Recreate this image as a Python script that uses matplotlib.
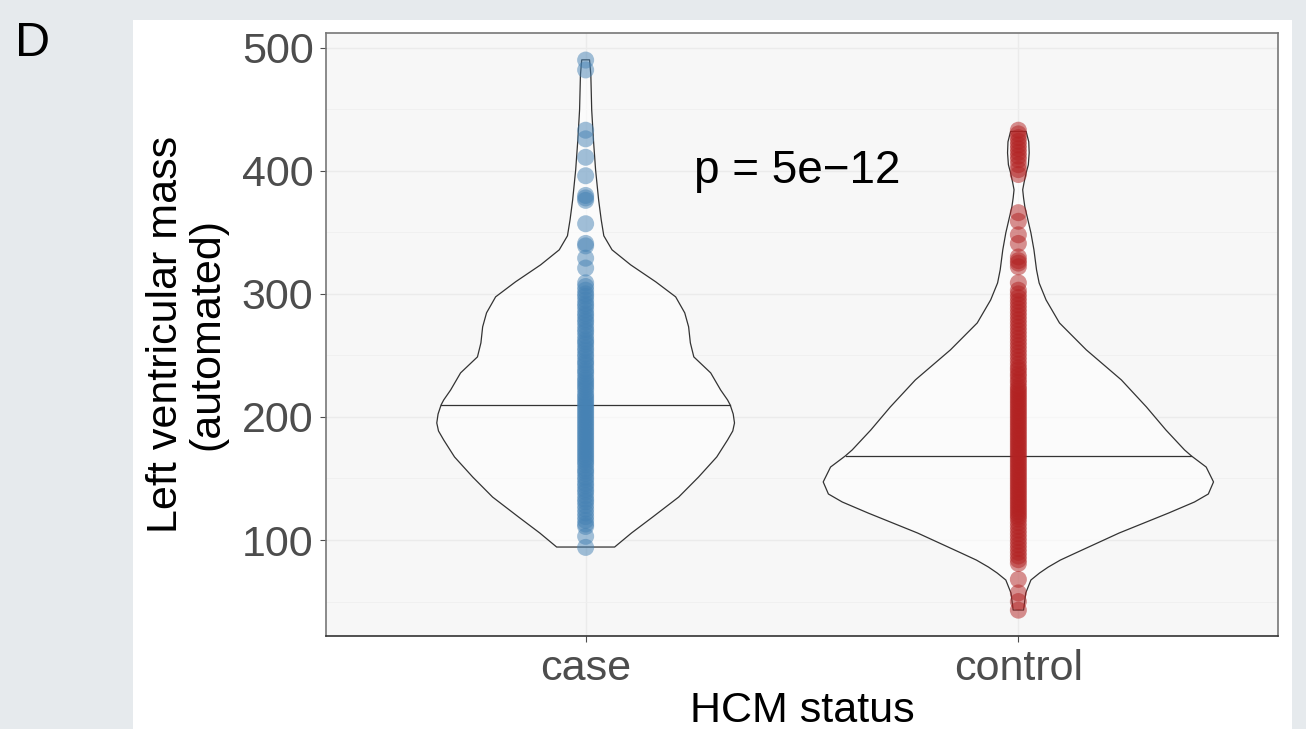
import matplotlib
matplotlib.use("Agg")
import matplotlib.pyplot as plt
from matplotlib.patches import Rectangle
import numpy as np

plt.rcParams['font.family'] = ['Liberation Sans', 'DejaVu Sans']

# --- data ------------------------------------------------------------------
groups = ["case", "control"]
colors = ["#4682b4", "#b22222"]

case_lvm = [490, 482, 433, 426, 411, 396, 380, 378, 376, 357, 341, 339, 329,
            321, 309, 306, 303, 300, 298, 295, 292, 290, 287, 284, 282, 279,
            277, 274, 271, 269, 266, 263, 261, 259, 256, 254, 251, 249, 246,
            244, 242, 239, 237, 235, 232, 230, 228, 226, 224, 222, 219, 217,
            215, 213, 211, 209, 207, 205, 203, 201, 199, 197, 195, 193, 191,
            189, 187, 185, 183, 181, 179, 177, 175, 173, 171, 169, 167, 165,
            163, 161, 158, 156, 154, 151, 149, 146, 144, 141, 139, 136, 133,
            131, 128, 125, 122, 119, 116, 113, 111, 103, 94]

control_lvm = [433, 430, 427, 424, 421, 418, 415, 412, 409, 405, 401, 397,
               366, 359, 348, 341, 330, 327, 325, 322, 309, 303, 300, 297,
               294, 291, 288, 285, 282, 279, 276, 273, 270, 267, 264, 261,
               258, 255, 252, 249, 246, 243, 240, 238, 235, 233, 230, 228,
               225, 223, 221, 219, 217, 215, 213, 211, 209, 207, 205, 203,
               201, 199, 197, 195, 193, 191, 189, 187, 185, 183, 181, 179,
               177, 175, 173, 171, 169, 167, 165, 163, 161, 159, 157, 155,
               153, 151, 149, 147, 145, 143, 141, 139, 137, 135, 133, 131,
               129, 127, 125, 123, 121, 119, 117, 114, 111, 108, 105, 102,
               99, 96, 93, 90, 87, 84, 81, 68, 57, 50, 43]

# violin outline: value -> half width (x units)
case_vy = [94.3, 105.7, 118.7, 134.9, 151.2, 167.5, 181.3, 188.6, 195.1,
           202.4, 209.8, 213.8, 221.9, 235.8, 248.8, 260.2, 273.2, 284.6,
           297.6, 309.8, 323.6, 335.8, 347.2, 360.2, 376.4, 400.8, 425.2,
           449.6, 478.0, 490.2]
case_hw = [0.067, 0.106, 0.155, 0.215, 0.261, 0.303, 0.328, 0.340, 0.344,
           0.341, 0.334, 0.328, 0.312, 0.289, 0.250, 0.242, 0.238, 0.229,
           0.208, 0.162, 0.104, 0.061, 0.042, 0.036, 0.030, 0.023, 0.018,
           0.014, 0.012, 0.009]

control_vy = [43.1, 56.9, 67.5, 73.2, 78.0, 83.7, 89.4, 105.7, 121.9, 130.9,
              137.4, 147.2, 159.3, 168.3, 173.2, 189.4, 208.1, 230.1, 254.5,
              276.4, 295.1, 308.9, 319.5, 335.8, 349.6, 360.2, 370.7, 378.0,
              384.6, 390.2, 398.4, 404.9, 414.6, 423.6, 432.0]
control_hw = [0.012, 0.017, 0.029, 0.049, 0.069, 0.097, 0.132, 0.233, 0.347,
              0.407, 0.439, 0.451, 0.434, 0.400, 0.384, 0.341, 0.296, 0.238,
              0.157, 0.095, 0.064, 0.048, 0.042, 0.036, 0.029, 0.022, 0.015,
              0.012, 0.010, 0.013, 0.018, 0.023, 0.025, 0.024, 0.018]

medians = [209.8, 168.5]
p_label = "p = 5e\u221212"

yticks = [100, 200, 300, 400, 500]

# --- figure ----------------------------------------------------------------
fig = plt.figure(figsize=(13.06, 7.29), dpi=100)
fig.patch.set_facecolor("#e6eaed")
fig.patches.append(Rectangle((133 / 1306, 0), (1292 - 133) / 1306, 1 - 20 / 729,
                             transform=fig.transFigure, facecolor="white",
                             edgecolor="none", zorder=-10))
fig.text(15 / 1306, 1 - 43 / 729, "D", fontsize=35, va="center", ha="left")

ax = fig.add_axes([326 / 1306, 1 - 636 / 729, (1278 - 326) / 1306, (636 - 33) / 729])
ax.set_zorder(1)
ax.set_facecolor("#f7f7f7")

values = [case_lvm, control_lvm]
outlines = [(case_vy, case_hw), (control_vy, control_hw)]
for i, (vals, (vy, hw), col, med) in enumerate(zip(values, outlines, colors, medians)):
    x0 = i + 1
    vy = np.array(vy)
    hw = np.array(hw)
    xs = np.concatenate([x0 - hw, (x0 + hw)[::-1]])
    ys = np.concatenate([vy, vy[::-1]])
    ax.fill(xs, ys, facecolor=(1, 1, 1, 0.6), edgecolor="#333333", lw=0.9,
            joinstyle="round", zorder=2)
    mw = np.interp(med, vy, hw)
    ax.plot([x0 - mw, x0 + mw], [med, med], color="#333333", lw=0.9, zorder=2)
    ax.scatter(np.full(len(vals), x0), vals, s=150, color=col, alpha=0.5,
               edgecolors="none", zorder=3)

ax.text(1.49, 400, p_label, fontsize=33, ha="center", va="center")

ax.set_xlim(0.4, 2.6)
ax.set_ylim(22, 512)
ax.set_xticks([1, 2])
ax.set_xticklabels(groups)
ax.set_yticks(yticks)
ax.set_yticks([50, 150, 250, 350, 450], minor=True)
ax.grid(True, which="major", color="#ebebeb", lw=1.0, zorder=0)
ax.grid(True, which="minor", axis="y", color="#efefef", lw=0.6, zorder=0)
ax.set_axisbelow(True)

ax.tick_params(axis="both", which="major", labelsize=31, colors="#4d4d4d",
               length=4, width=0.8, pad=5)
ax.tick_params(axis="both", which="minor", length=0)
for side in ["top", "right", "left"]:
    ax.spines[side].set_color("#777777")
    ax.spines[side].set_linewidth(1.2)
ax.spines["bottom"].set_color("#333333")
ax.spines["bottom"].set_linewidth(1.2)

ax.set_xlabel("HCM status", fontsize=31, labelpad=2)
ax.set_ylabel("Left ventricular mass\n(automated)", fontsize=31, labelpad=10,
              linespacing=1.05)

fig.savefig("out.png", dpi=100, facecolor=fig.get_facecolor())
